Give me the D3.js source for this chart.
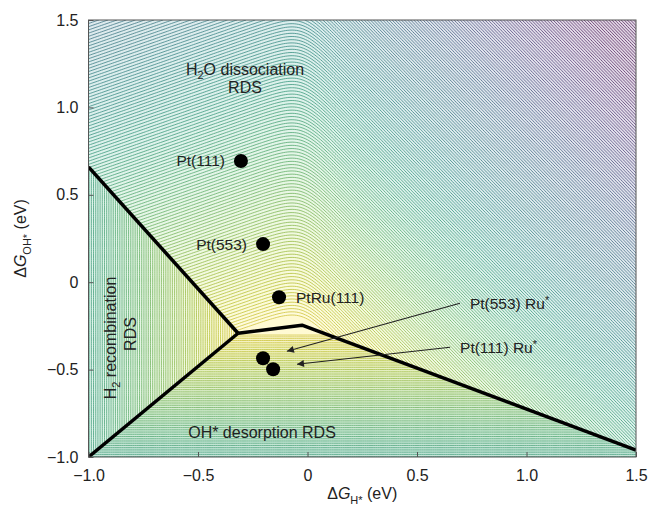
<!DOCTYPE html>
<html>
<head>
<meta charset="utf-8">
<script src="https://cdn.jsdelivr.net/npm/d3@7"></script>
<style>
  body { margin: 0; background: #fff; }
  text { font-family: "Liberation Sans", Arial, sans-serif; fill: #222; }
</style>
</head>
<body>
<div id="chart"></div>
<script>
// chart size
var width = 649;
var height = 510;
var margin = { top: 20, right: 13, bottom: 53, left: 88.5 };

// axis ranges and ticks
var xDomain = [-1, 1.5];
var yDomain = [-1, 1.5];
var xTicks = [-1, -0.5, 0, 0.5, 1, 1.5];
var yTicks = [-1, -0.5, 0, 0.5, 1, 1.5];

// catalysts (eV)
var catalysts = ["Pt(111)", "Pt(553)", "PtRu(111)", "Pt(553) Ru*", "Pt(111) Ru*"];
var dGH = [-0.304, -0.203, -0.13, -0.203, -0.157];
var dGOH = [0.693, 0.218, -0.086, -0.435, -0.498];

// arrows for the Ru* labels: tail (label end) and head
var arrowTail = [[0.696, -0.12], [0.651, -0.372]];
var arrowHead = [[-0.094, -0.395], [-0.048, -0.469]];

// rate determining step borders
var borders = [
  [[-1, 0.659], [-0.317, -0.292]],
  [[-1, -1], [-0.317, -0.292]],
  [[-0.317, -0.292], [-0.025, -0.246], [1.5, -0.96]]
];

// model for the background contour (limiting barrier, eV)
var triple = [-0.317, -0.292];
var slopeOH = 0.965;
var topCoef = [0.546, -0.238, 0.084, 0.7075, 0.1076];  // y coef, left slope, left offset, right slope, right offset
var smooth = 0.04;
var levelStep = 0.01;
var levelMax = 2.0;

function barrier(x, y) {
  var left = -(x - triple[0]);
  var bottom = -slopeOH * (y - triple[1]);
  var a = topCoef[1] * x + topCoef[2];
  var b = topCoef[3] * x + topCoef[4];
  var m = Math.max(a, b);
  var top = topCoef[0] * y + m + smooth * Math.log(Math.exp((a - m) / smooth) + Math.exp((b - m) / smooth));
  return Math.max(left, bottom, top);
}

var x = d3.scaleLinear().domain(xDomain).range([margin.left, width - margin.right]);
var y = d3.scaleLinear().domain(yDomain).range([height - margin.bottom, margin.top]);

var svg = d3.select("#chart").append("svg")
  .attr("width", width)
  .attr("height", height);

svg.append("defs").append("clipPath").attr("id", "plotClip")
  .append("rect")
  .attr("x", x(xDomain[0])).attr("y", y(yDomain[1]))
  .attr("width", x(xDomain[1]) - x(xDomain[0]))
  .attr("height", y(yDomain[0]) - y(yDomain[1]));

svg.select("defs").append("marker")
  .attr("id", "head")
  .attr("viewBox", "0 0 10 10")
  .attr("refX", 10).attr("refY", 5)
  .attr("markerWidth", 9).attr("markerHeight", 7)
  .attr("markerUnits", "userSpaceOnUse")
  .attr("orient", "auto")
  .append("path").attr("d", "M0,0L10,5L0,10Z").attr("fill", "#222");

// grid of values
var nx = 251, ny = 201;
var dx = (xDomain[1] - xDomain[0]) / (nx - 1);
var dy = (yDomain[1] - yDomain[0]) / (ny - 1);
var values = new Array(nx * ny);
for (var j = 0; j < ny; j++) {
  for (var i = 0; i < nx; i++) {
    values[j * nx + i] = barrier(xDomain[0] + i * dx, yDomain[0] + j * dy);
  }
}

var levels = d3.range(1, Math.round(levelMax / levelStep)).map(function(k) { return k * levelStep; });
var contours = d3.contours().size([nx, ny]).thresholds(levels)(values);

var proj = d3.geoTransform({
  point: function(u, v) {
    this.stream.point(x(xDomain[0] + (u - 0.5) * dx), y(yDomain[0] + (v - 0.5) * dy));
  }
});
var path = d3.geoPath(proj);

function baseColor(v) {
  return d3.interpolateViridis(1 - Math.min(1, v / 1.85));
}

var plot = svg.append("g").attr("clip-path", "url(#plotClip)");

plot.append("rect")
  .attr("x", x(xDomain[0])).attr("y", y(yDomain[1]))
  .attr("width", x(xDomain[1]) - x(xDomain[0]))
  .attr("height", y(yDomain[0]) - y(yDomain[1]))
  .attr("fill", d3.interpolateRgb(baseColor(0), "#fff")(0.8));

plot.selectAll("path.band")
  .data(contours)
  .enter().append("path")
  .attr("class", "band")
  .attr("d", path)
  .attr("fill", function(d) { return d3.interpolateRgb(baseColor(d.value), "#fff")(0.84); })
  .attr("stroke", function(d) { return d3.interpolateRgb(baseColor(d.value), "#8a8a8a")(0.35); })
  .attr("stroke-width", 0.85);

// RDS borders
var line = d3.line().x(function(d) { return x(d[0]); }).y(function(d) { return y(d[1]); });
plot.selectAll("path.border")
  .data(borders)
  .enter().append("path")
  .attr("class", "border")
  .attr("d", line)
  .attr("fill", "none")
  .attr("stroke", "#000")
  .attr("stroke-width", 3.5)
  .attr("stroke-linejoin", "round");

// frame
svg.append("rect")
  .attr("x", x(xDomain[0])).attr("y", y(yDomain[1]))
  .attr("width", x(xDomain[1]) - x(xDomain[0]))
  .attr("height", y(yDomain[0]) - y(yDomain[1]))
  .attr("fill", "none")
  .attr("stroke", "#555")
  .attr("stroke-width", 1);

// axes
function fmt(d) { return d === 0 ? "0" : d3.format(".1f")(d); }

var xAxis = svg.append("g")
  .attr("transform", "translate(0," + y(yDomain[0]) + ")")
  .call(d3.axisBottom(x).tickValues(xTicks).tickFormat(fmt).tickSizeInner(-5).tickSizeOuter(0).tickPadding(13));
var yAxis = svg.append("g")
  .attr("transform", "translate(" + x(xDomain[0]) + ",0)")
  .call(d3.axisLeft(y).tickValues(yTicks).tickFormat(fmt).tickSizeInner(-5).tickSizeOuter(0).tickPadding(10));
[xAxis, yAxis].forEach(function(a) {
  a.select(".domain").remove();
  a.selectAll("line").attr("stroke", "#555");
  a.selectAll("text").attr("font-size", 16).attr("fill", "#222")
    .style("font-family", "Liberation Sans, Arial, sans-serif");
});

// axis titles
var xt = svg.append("text")
  .attr("x", (x(xDomain[0]) + x(xDomain[1])) / 2)
  .attr("y", 499)
  .attr("text-anchor", "middle")
  .attr("font-size", 16);
xt.append("tspan").text("\u0394");
xt.append("tspan").attr("font-style", "italic").text("G");
xt.append("tspan").attr("font-size", 11).attr("dy", 5).text("H*");
xt.append("tspan").attr("dy", -5).text(" (eV)");

var yt = svg.append("text")
  .attr("transform", "translate(26," + (y(yDomain[0]) + y(yDomain[1])) / 2 + ")rotate(-90)")
  .attr("text-anchor", "middle")
  .attr("font-size", 16);
yt.append("tspan").text("\u0394");
yt.append("tspan").attr("font-style", "italic").text("G");
yt.append("tspan").attr("font-size", 11).attr("dy", 5).text("OH*");
yt.append("tspan").attr("dy", -5).text(" (eV)");

// region labels
var h2o = svg.append("text").attr("x", 245).attr("y", 75).attr("text-anchor", "middle").attr("font-size", 16);
h2o.append("tspan").text("H");
h2o.append("tspan").attr("font-size", 11).attr("dy", 4).text("2");
h2o.append("tspan").attr("dy", -4).text("O dissociation");
svg.append("text").attr("x", 245).attr("y", 93).attr("text-anchor", "middle").attr("font-size", 16).text("RDS");

var h2 = svg.append("text").attr("transform", "translate(116,338)rotate(-90)").attr("text-anchor", "middle").attr("font-size", 16);
h2.append("tspan").text("H");
h2.append("tspan").attr("font-size", 11).attr("dy", 4).text("2");
h2.append("tspan").attr("dy", -4).text(" recombination");
svg.append("text").attr("transform", "translate(136,334)rotate(-90)").attr("text-anchor", "middle").attr("font-size", 16).text("RDS");

svg.append("text").attr("x", 262).attr("y", 438).attr("text-anchor", "middle").attr("font-size", 16).text("OH* desorption RDS");

// arrows
svg.selectAll("line.arrow")
  .data(arrowTail)
  .enter().append("line")
  .attr("class", "arrow")
  .attr("x1", function(d) { return x(d[0]); })
  .attr("y1", function(d) { return y(d[1]); })
  .attr("x2", function(d, i) { return x(arrowHead[i][0]); })
  .attr("y2", function(d, i) { return y(arrowHead[i][1]); })
  .attr("stroke", "#222")
  .attr("stroke-width", 1.1)
  .attr("marker-end", "url(#head)");

// points
svg.selectAll("circle.cat")
  .data(catalysts)
  .enter().append("circle")
  .attr("class", "cat")
  .attr("cx", function(d, i) { return x(dGH[i]); })
  .attr("cy", function(d, i) { return y(dGOH[i]); })
  .attr("r", 7)
  .attr("fill", "#000");

// point labels
var labelPos = [
  { dx: -16, dy: 0, anchor: "end" },
  { dx: -16, dy: 0, anchor: "end" },
  { dx: 17, dy: 0, anchor: "start" }
];
catalysts.forEach(function(name, i) {
  var t;
  if (i < 3) {
    t = svg.append("text")
      .attr("x", x(dGH[i]) + labelPos[i].dx)
      .attr("y", y(dGOH[i]) + labelPos[i].dy)
      .attr("dy", "0.35em")
      .attr("text-anchor", labelPos[i].anchor);
  } else {
    var tail = arrowTail[i - 3];
    t = svg.append("text")
      .attr("x", x(tail[0]) + 10)
      .attr("y", y(tail[1]))
      .attr("dy", "0.35em")
      .attr("text-anchor", "start");
  }
  t.attr("font-size", 15.5);
  var parts = name.split("*");
  t.append("tspan").text(parts[0]);
  if (parts.length > 1) {
    t.append("tspan").attr("font-size", 11).attr("dy", -5).text("*");
  }
});
</script>
</body>
</html>
